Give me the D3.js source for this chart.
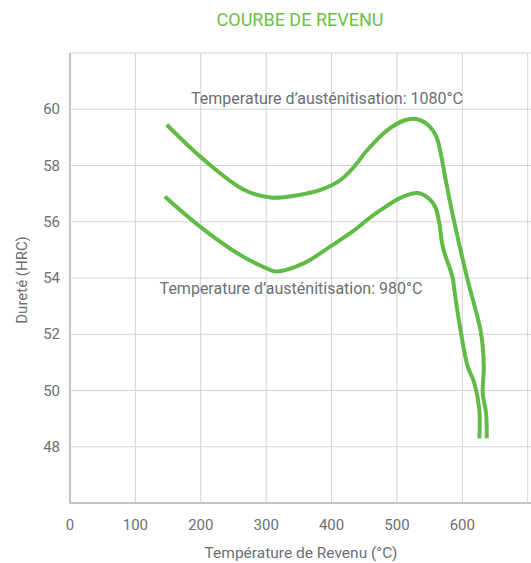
<!DOCTYPE html>
<html lang="fr">
<head>
  <meta charset="UTF-8" />
  <title>Courbe de revenu</title>
  <script src="https://d3js.org/d3.v7.min.js"></script>
  <style>
    body { margin: 0; background: white; }
    text { font-family: Roboto, sans-serif; }
  </style>
</head>
<body>
<div id="chart"></div>
<script>
  // data
  var xTicks = [0, 100, 200, 300, 400, 500, 600];
  var yTicks = [48, 50, 52, 54, 56, 58, 60];

  var curve1080 = [
    [148, 59.45], [205, 58.2], [266, 57.14], [307, 56.86], [350, 56.95],
    [384, 57.14], [414, 57.49], [435, 57.97], [455, 58.56], [486, 59.27],
    [511, 59.6], [529, 59.65], [547, 59.45], [560, 59.04], [568, 58.3],
    [576, 57.3], [588, 55.95], [608, 53.94], [628.6, 52.04], [632.8, 50.85],
    [631.2, 49.9], [636.3, 49.19], [637.3, 48.3]
  ];
  var curve980 = [
    [145, 56.9], [195, 55.9], [256, 54.88], [300, 54.35], [315, 54.23],
    [358, 54.53], [400, 55.15], [435, 55.7], [455, 56.08], [476, 56.43],
    [506, 56.86], [532, 57.02], [550, 56.8], [559, 56.5], [564.8, 55.95],
    [570, 55.12], [585.3, 54.0], [587.7, 53.58], [598, 52.04], [608.3, 50.85],
    [618.4, 50.26], [626, 49.31], [626, 48.3]
  ];
  var labels = [
    {text: "Temperature d\u2019austénitisation: 1080°C", x: 393, y: 60.2},
    {text: "Temperature d\u2019austénitisation: 980°C", x: 338, y: 53.42}
  ];

  var W = 531, H = 563;
  var margin = {top: 53, right: 0, bottom: 60, left: 70};

  var svg = d3.select("#chart").append("svg")
    .attr("width", W).attr("height", H);

  var x = d3.scaleLinear().domain([0, 705]).range([margin.left, W - margin.right]);
  var y = d3.scaleLinear().domain([46, 62]).range([H - margin.bottom, margin.top]);

  var green = "#62bb46";
  var grid = "#d2d2d2";
  var textCol = "#6b6f73";

  // title
  svg.append("text")
    .attr("x", 300).attr("y", 26)
    .attr("text-anchor", "middle")
    .style("font-size", "18px")
    .style("fill", "#6cc04a")
    .text("COURBE DE REVENU");

  // grid lines
  svg.append("g").selectAll("line").data(d3.range(100, 800, 100)).enter()
    .append("line")
      .attr("x1", function (d) { return x(d); })
      .attr("x2", function (d) { return x(d); })
      .attr("y1", y(62)).attr("y2", y(46))
      .style("stroke", grid).style("stroke-width", 1);

  svg.append("g").selectAll("line").data(d3.range(48, 64, 2)).enter()
    .append("line")
      .attr("x1", x(0)).attr("x2", W)
      .attr("y1", function (d) { return y(d); })
      .attr("y2", function (d) { return y(d); })
      .style("stroke", grid).style("stroke-width", 1);

  // axis lines
  svg.append("line")
    .attr("x1", x(0)).attr("x2", x(0))
    .attr("y1", y(62)).attr("y2", y(46) + 1)
    .style("stroke", "#c4c4c4").style("stroke-width", 2);
  svg.append("line")
    .attr("x1", x(0) - 1).attr("x2", W)
    .attr("y1", y(46)).attr("y2", y(46))
    .style("stroke", "#c4c4c4").style("stroke-width", 2);

  // tick labels
  svg.append("g").selectAll("text").data(xTicks).enter()
    .append("text")
      .attr("x", function (d) { return x(d); })
      .attr("y", y(46) + 27)
      .attr("text-anchor", "middle")
      .style("font-size", "15px")
      .style("fill", textCol)
      .text(function (d) { return d; });

  svg.append("g").selectAll("text").data(yTicks).enter()
    .append("text")
      .attr("x", x(0) - 10)
      .attr("y", function (d) { return y(d) + 5; })
      .attr("text-anchor", "end")
      .style("font-size", "15px")
      .style("fill", textCol)
      .text(function (d) { return d; });

  // axis titles
  svg.append("text")
    .attr("x", 301).attr("y", 558)
    .attr("text-anchor", "middle")
    .style("font-size", "15.5px")
    .style("fill", textCol)
    .text("Température de Revenu (°C)");

  svg.append("text")
    .attr("transform", "translate(27,280) rotate(-90)")
    .attr("text-anchor", "middle")
    .style("font-size", "15px")
    .style("fill", textCol)
    .text("Dureté (HRC)");

  // curves
  var line = d3.line()
    .x(function (d) { return x(d[0]); })
    .y(function (d) { return y(d[1]); })
    .curve(d3.curveCatmullRom.alpha(0.5));

  [curve1080, curve980].forEach(function (c) {
    svg.append("path")
      .datum(c)
      .attr("d", line)
      .style("fill", "none")
      .style("stroke", green)
      .style("stroke-width", 4)
      .style("stroke-linecap", "butt")
      .style("stroke-linejoin", "round");
  });

  // curve labels
  svg.append("g").selectAll("text").data(labels).enter()
    .append("text")
      .attr("x", function (d) { return x(d.x); })
      .attr("y", function (d) { return y(d.y); })
      .attr("text-anchor", "middle")
      .style("font-size", "16px")
      .style("fill", textCol)
      .text(function (d) { return d.text; });
</script>
</body>
</html>
